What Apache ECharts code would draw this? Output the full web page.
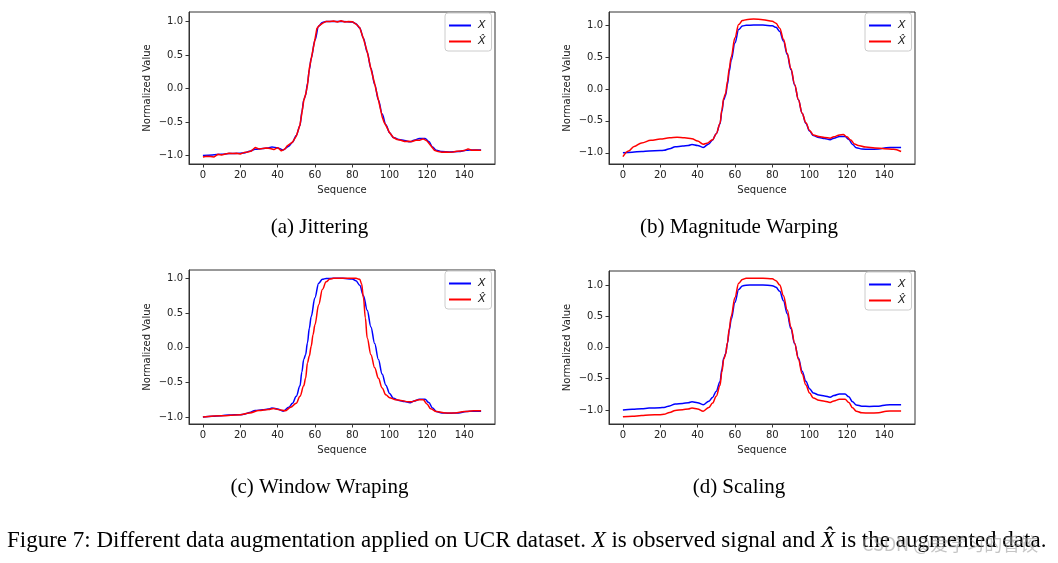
<!DOCTYPE html>
<html>
<head>
<meta charset="utf-8">
<script src="https://cdn.jsdelivr.net/npm/echarts@6/dist/echarts.min.js"></script>
<style>
html,body{margin:0;padding:0;background:#fff;}
#chart{width:1058px;height:563px;}
</style>
</head>
<body>
<div id="chart"></div>
<script>
// ---- data ----
const seqTicks = [0, 20, 40, 60, 80, 100, 120, 140];
const valueTicks = [-1, -0.5, 0, 0.5, 1];
const seriesNames = ['X', 'X\u0302'];
const panelTitles = ['(a) Jittering', '(b) Magnitude Warping', '(c) Window Wraping', '(d) Scaling'];
const figureCaptionParts = ['Figure 7: Different data augmentation applied on UCR dataset. ', 'X', ' is observed signal and ', 'X\u0302', ' is the augmented data.'];
const watermarkText = 'CSDN @爱学习的香饺';

// observed signal X
const observedX = [[0,-1.0],[5,-0.99],[10,-0.98],[14,-0.97],[20,-0.965],[22,-0.96],[25,-0.935],[28,-0.905],[32,-0.895],[35,-0.885],[37,-0.87],[40,-0.885],[43,-0.915],[46,-0.86],[48,-0.8],[50,-0.7],[52,-0.55],[53,-0.35],[54,-0.17],[55,-0.1],[56,0.07],[57,0.28],[58,0.45],[60,0.72],[62,0.93],[64,0.985],[66,0.998],[70,1.0],[75,1.0],[80,0.99],[82,0.965],[84,0.9],[86,0.75],[88,0.54],[90,0.3],[92,0.06],[94,-0.17],[96,-0.38],[98,-0.54],[100,-0.66],[102,-0.73],[105,-0.76],[108,-0.775],[111,-0.795],[113,-0.77],[116,-0.745],[119,-0.745],[121,-0.79],[123,-0.87],[125,-0.92],[128,-0.94],[132,-0.945],[137,-0.94],[141,-0.92],[145,-0.915],[149,-0.915]];

// (a) jittering
const jitterXhat = [[0,-1.02],[2,-1.01],[3,-1.0],[4,-1.015],[6,-1.02],[8,-0.98],[9,-0.975],[10,-0.99],[12,-0.975],[14,-0.965],[16,-0.97],[18,-0.965],[20,-0.975],[22,-0.955],[24,-0.945],[26,-0.93],[27,-0.945],[28,-0.88],[29,-0.905],[30,-0.9],[32,-0.895],[34,-0.885],[36,-0.895],[37,-0.875],[38,-0.91],[39,-0.885],[40,-0.88],[41,-0.9],[42,-0.93],[43,-0.92],[44,-0.9],[45,-0.86],[46,-0.855],[48,-0.8],[50,-0.71],[52,-0.54],[53,-0.37],[54,-0.18],[55,-0.09],[56,0.05],[57,0.3],[58,0.44],[60,0.73],[61,0.89],[62,0.93],[63,0.925],[64,0.97],[65,0.985],[66,1.0],[68,1.0],[70,1.005],[71,1.02],[72,0.99],[73,1.0],[74,1.01],[75,1.03],[76,0.99],[77,0.98],[78,1.0],[80,0.995],[82,0.96],[84,0.905],[86,0.74],[88,0.55],[90,0.29],[92,0.07],[94,-0.17],[96,-0.42],[97,-0.5],[98,-0.55],[100,-0.66],[102,-0.73],[104,-0.76],[106,-0.77],[107,-0.76],[108,-0.79],[109,-0.8],[110,-0.785],[112,-0.79],[113,-0.8],[114,-0.77],[115,-0.76],[116,-0.77],[117,-0.765],[118,-0.75],[119,-0.76],[120,-0.78],[122,-0.85],[124,-0.92],[126,-0.94],[128,-0.95],[130,-0.945],[132,-0.95],[134,-0.945],[136,-0.935],[138,-0.93],[139,-0.905],[140,-0.925],[142,-0.9],[143,-0.895],[144,-0.92],[146,-0.915],[148,-0.92],[149,-0.92]];

// (b) magnitude warping
const magWarpXhat = [[0,-1.06],[3,-0.97],[6,-0.9],[10,-0.845],[15,-0.805],[20,-0.785],[25,-0.765],[29,-0.755],[33,-0.765],[37,-0.78],[40,-0.815],[43,-0.865],[45,-0.85],[48,-0.795],[50,-0.7],[52,-0.54],[53,-0.33],[54,-0.14],[55,-0.07],[56,0.12],[57,0.33],[58,0.5],[60,0.8],[62,1.01],[64,1.07],[66,1.085],[70,1.095],[75,1.085],[80,1.06],[82,1.03],[84,0.95],[86,0.78],[88,0.56],[90,0.32],[92,0.07],[94,-0.17],[96,-0.38],[98,-0.53],[100,-0.65],[102,-0.72],[105,-0.745],[108,-0.76],[111,-0.77],[113,-0.75],[116,-0.72],[118,-0.715],[120,-0.75],[122,-0.8],[124,-0.86],[126,-0.885],[130,-0.91],[135,-0.925],[140,-0.935],[145,-0.945],[149,-0.98]];

// (c) window warping
const windowWarpXhat = [[0,-1.0],[10,-0.98],[20,-0.965],[25,-0.94],[30,-0.905],[35,-0.89],[38,-0.875],[41,-0.895],[44,-0.91],[47,-0.86],[50,-0.8],[52,-0.7],[54,-0.55],[55,-0.44],[56,-0.22],[57,-0.12],[58,0.02],[59,0.19],[60,0.33],[62,0.62],[64,0.84],[66,0.95],[68,0.99],[70,1.0],[82,1.0],[84,0.985],[85,0.92],[86,0.72],[87,0.43],[88,0.14],[90,-0.1],[92,-0.29],[94,-0.44],[96,-0.58],[98,-0.68],[100,-0.72],[103,-0.75],[106,-0.76],[110,-0.78],[112,-0.78],[114,-0.76],[116,-0.75],[118,-0.75],[120,-0.81],[122,-0.88],[125,-0.92],[130,-0.94],[135,-0.94],[140,-0.92],[145,-0.91],[149,-0.91]];

// (d) scaling
const scalingXhat = [[0,-1.11],[5,-1.1],[10,-1.09],[14,-1.08],[20,-1.075],[22,-1.07],[25,-1.04],[28,-1.01],[32,-0.995],[35,-0.985],[37,-0.97],[40,-0.985],[43,-1.02],[46,-0.96],[48,-0.89],[50,-0.78],[52,-0.61],[53,-0.39],[54,-0.19],[55,-0.11],[56,0.08],[57,0.31],[58,0.5],[60,0.8],[62,1.03],[64,1.09],[66,1.108],[70,1.11],[75,1.11],[80,1.1],[82,1.07],[84,1.0],[86,0.83],[88,0.6],[90,0.33],[92,0.07],[94,-0.19],[96,-0.42],[98,-0.6],[100,-0.73],[102,-0.81],[105,-0.845],[108,-0.86],[111,-0.88],[113,-0.855],[116,-0.83],[119,-0.83],[121,-0.88],[123,-0.965],[125,-1.02],[128,-1.045],[132,-1.05],[137,-1.045],[141,-1.02],[145,-1.015],[149,-1.015]];

const augmented = [jitterXhat, magWarpXhat, windowWarpXhat, scalingXhat];

// ---- layout ----
const panels = [
  {left:189, top:12,  width:306, height:152, ymin:-1.125, ymax:1.14,  smoothRed:false},
  {left:609, top:12,  width:306, height:152, ymin:-1.175, ymax:1.205, smoothRed:true},
  {left:189, top:270, width:306, height:154, ymin:-1.1,   ymax:1.12,  smoothRed:true},
  {left:609, top:271, width:306, height:153, ymin:-1.225, ymax:1.225, smoothRed:true}
];
const captionCenters = [[319.5,227],[739,227],[319.5,487],[739,487]];

const FONT = 'DejaVu Sans';
const AXC = '#222';
const fmt = v => (Math.abs(v) < 1e-9 ? '0.0' : v.toFixed(1)).replace('-', '\u2212');

const grid = [], xAxis = [], yAxis = [], series = [], legend = [];
panels.forEach((p, i) => {
  grid.push({left:p.left, top:p.top, width:p.width, height:p.height, show:true, borderColor:'#333', borderWidth:1, backgroundColor:'transparent', containLabel:false});
  xAxis.push({
    type:'value', gridIndex:i, min:-7.45, max:156.45,
    name:'Sequence', nameLocation:'middle', nameGap:21,
    nameTextStyle:{fontFamily:FONT, fontSize:10, color:AXC},
    axisLine:{show:true, onZero:false, lineStyle:{color:'#333', width:1}},
    axisTick:{show:true, length:3.5, lineStyle:{color:'#333'}, customValues:seqTicks},
    axisLabel:{fontFamily:FONT, fontSize:10, color:AXC, margin:6, customValues:seqTicks, formatter:v=>String(v)},
    splitLine:{show:false}
  });
  yAxis.push({
    type:'value', gridIndex:i, min:p.ymin, max:p.ymax,
    name:'Normalized Value', nameLocation:'middle', nameGap:37,
    nameTextStyle:{fontFamily:FONT, fontSize:10, color:AXC},
    axisLine:{show:true, onZero:false, lineStyle:{color:'#333', width:1}},
    axisTick:{show:true, length:3.5, lineStyle:{color:'#333'}, customValues:valueTicks},
    axisLabel:{fontFamily:FONT, fontSize:10, color:AXC, margin:6, customValues:valueTicks, formatter:fmt},
    splitLine:{show:false}
  });
  series.push({
    name:seriesNames[0], type:'line', xAxisIndex:i, yAxisIndex:i, data:observedX,
    showSymbol:false, smooth:0.35, smoothMonotone:'x', lineStyle:{color:'#0000ff', width:1.5}, itemStyle:{color:'#0000ff'}, z:2, animation:false
  });
  series.push({
    name:seriesNames[1], type:'line', xAxisIndex:i, yAxisIndex:i, data:augmented[i],
    showSymbol:false, smooth:p.smoothRed ? 0.35 : false, smoothMonotone:'x', lineStyle:{color:'#ff0000', width:1.5}, itemStyle:{color:'#ff0000'}, z:3, animation:false
  });
  legend.push({
    data:seriesNames, orient:'vertical',
    left:p.left + p.width - 50, top:p.top + 1,
    backgroundColor:'rgba(255,255,255,0.85)', borderColor:'#cccccc', borderWidth:1, borderRadius:3,
    padding:[7,6,4,4], itemGap:5, itemWidth:22, itemHeight:2, icon:'rect',
    textStyle:{fontFamily:FONT, fontSize:11, fontStyle:'italic', color:AXC, padding:[0,0,0,2]},
    selectedMode:false
  });
});

const graphic = [];
panelTitles.forEach((t, i) => {
  graphic.push({type:'text', x:captionCenters[i][0], y:captionCenters[i][1], style:{text:t, fontFamily:'Liberation Serif', fontSize:21, fill:'#000', align:'center', verticalAlign:'middle', textAlign:'center', textVerticalAlign:'middle'}});
});
graphic.push({
  type:'text', x:7, y:541,
  style:{
    text:'{n|' + figureCaptionParts[0] + '}{i|' + figureCaptionParts[1] + '}{n|' + figureCaptionParts[2] + '}{i|' + figureCaptionParts[3] + '}{n|' + figureCaptionParts[4] + '}',
    verticalAlign:'middle', textVerticalAlign:'middle',
    rich:{
      n:{fontFamily:'Liberation Serif', fontSize:23, fill:'#000'},
      i:{fontFamily:'Liberation Serif', fontSize:23, fontStyle:'italic', fill:'#000'}
    }
  }
});
graphic.push({type:'text', x:862, y:544, z:10, style:{text:watermarkText, fontFamily:'Noto Sans CJK SC', fontSize:18, fill:'rgba(150,150,150,0.55)', verticalAlign:'middle', textVerticalAlign:'middle'}});

const chart = echarts.init(document.getElementById('chart'), null, {renderer:'canvas'});
chart.setOption({animation:false, backgroundColor:'#fff', grid, xAxis, yAxis, series, legend, graphic});
</script>
</body>
</html>
